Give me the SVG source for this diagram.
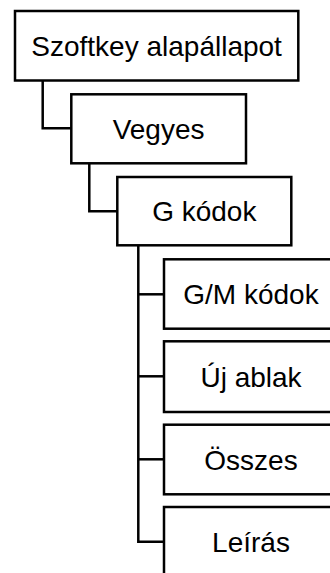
<svg xmlns="http://www.w3.org/2000/svg" width="330" height="573" viewBox="0 0 330 573">
<style>
.box{fill:#fff;stroke:#000;stroke-width:2.5}
.lbl{font-family:"Liberation Sans",Arial,sans-serif;font-size:28px;fill:#000;text-anchor:middle}
.con{fill:none;stroke:#000;stroke-width:2.5}
</style>
<rect width="330" height="573" fill="#fff"/>
<g id="connectors">
<path class="con" d="M42.7,80.5 V128.3 H71.3"/>
<path class="con" d="M89.3,163.3 V211.3 H117.3"/>
<path class="con" d="M138.3,245.3 V541.7 H164"/>
<path class="con" d="M138.3,294.3 H164"/>
<path class="con" d="M138.3,376.3 H164"/>
<path class="con" d="M138.3,459.3 H164"/>
</g>
<g id="node-szoftkey">
<rect class="box" x="15" y="11" width="283.3" height="69.5"/>
<text class="lbl" x="156.6" y="55.7">Szoftkey alapállapot</text>
</g>
<g id="node-vegyes">
<rect class="box" x="71.3" y="94.3" width="174.7" height="69"/>
<text class="lbl" x="158.6" y="138.8">Vegyes</text>
</g>
<g id="node-gkodok">
<rect class="box" x="117.3" y="177" width="174" height="68.3"/>
<text class="lbl" x="204.3" y="221.2">G kódok</text>
</g>
<g id="node-gmkodok">
<rect class="box" x="164" y="259.3" width="175" height="69.4"/>
<text class="lbl" x="251" y="304">G/M kódok</text>
</g>
<g id="node-ujablak">
<rect class="box" x="164" y="341.3" width="175" height="70.7"/>
<text class="lbl" x="251" y="386.5">Új ablak</text>
</g>
<g id="node-osszes">
<rect class="box" x="164" y="424.7" width="175" height="69.6"/>
<text class="lbl" x="251" y="469.5">Összes</text>
</g>
<g id="node-leiras">
<rect class="box" x="164" y="507" width="175" height="75"/>
<text class="lbl" x="251" y="552">Leírás</text>
</g>
</svg>
